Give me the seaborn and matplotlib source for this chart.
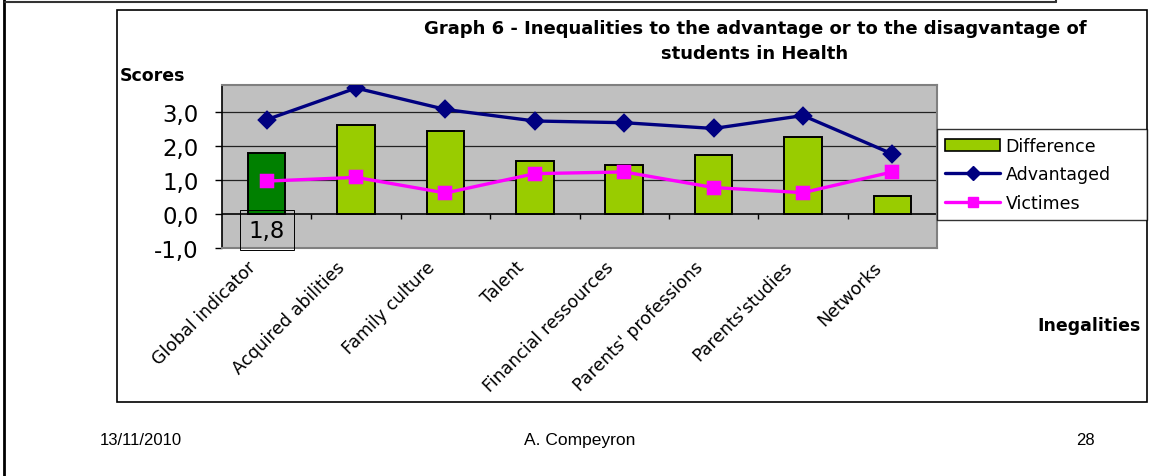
import numpy as np
import pandas as pd
import matplotlib
matplotlib.use("Agg")
import matplotlib.pyplot as plt
import matplotlib.transforms as mtransforms
from matplotlib.patches import Rectangle, Patch
from matplotlib.lines import Line2D
import seaborn as sns

# values
categories = ["Global indicator", "Acquired abilities", "Family culture", "Talent",
              "Financial ressources", "Parents' professions", "Parents'studies", "Networks"]
difference = [1.81, 2.63, 2.46, 1.55, 1.45, 1.73, 2.27, 0.53]
advantaged = [2.78, 3.71, 3.08, 2.74, 2.69, 2.52, 2.90, 1.77]
victimes = [0.97, 1.08, 0.62, 1.19, 1.24, 0.78, 0.63, 1.24]
yticks = [-1, 0, 1, 2, 3]

df = pd.DataFrame({"cat": categories, "Difference": difference,
                   "Advantaged": advantaged, "Victimes": victimes})

sns.set_style("white")
plt.rcParams["font.family"] = ["DejaVu Sans"]
plt.rcParams["text.color"] = "black"
plt.rcParams["xtick.color"] = "black"
plt.rcParams["ytick.color"] = "black"
plt.rcParams["axes.labelcolor"] = "black"

W, H = 1155, 477
fig = plt.figure(figsize=(W / 100, H / 100), dpi=100)


def fx(x):
    return x / W


def fy(y):
    return 1 - y / H


# slide decorations
fig.add_artist(Line2D([fx(4), fx(4)], [0, 1], color="black", lw=2))
fig.add_artist(Line2D([fx(5), fx(1056)], [fy(3), fy(3)], color="#333333", lw=1.5))
fig.add_artist(Line2D([fx(1056), fx(1056)], [fy(3), 1], color="#333333", lw=1.5))
fig.add_artist(Rectangle((fx(117), fy(403)), fx(1147) - fx(117), fy(11) - fy(403),
                         fill=False, ec="black", lw=1.2))

ax = fig.add_axes([fx(222), fy(249), fx(937) - fx(222), fy(86) - fy(249)])
ax.set_facecolor("#C0C0C0")

bar_colors = ["#008000"] + ["#99CC00"] * (len(categories) - 1)
sns.barplot(data=df, x="cat", y="Difference", hue="cat", palette=bar_colors,
            legend=False, width=0.42, edgecolor="black", linewidth=1.4,
            saturation=1, ax=ax, zorder=3)
sns.pointplot(data=df, x="cat", y="Advantaged", color="#000080", markers="D",
              linewidth=2.4, markersize=8, ax=ax, zorder=4)
sns.pointplot(data=df, x="cat", y="Victimes", color="#FF00FF", markers="s",
              linewidth=2.4, markersize=8.5, ax=ax, zorder=4)

ax.set_xlim(-0.5, len(categories) - 0.5)
ax.set_ylim(-1, 3.8)
ax.set_yticks(yticks)
ax.yaxis.set_major_formatter(lambda v, p: f"{v:.1f}".replace(".", ","))
ax.tick_params(axis="y", labelsize=16.5, length=5, width=1, color="black",
               direction="out", pad=12, left=True)
for g in [1, 2, 3]:
    ax.axhline(g, color="#222222", lw=0.9, zorder=1)
ax.axhline(0, color="black", lw=1.2, zorder=2)
ax.vlines(np.arange(0.5, len(categories) - 0.5), -0.14, 0, color="black", lw=1, zorder=2)

ax.set_xlabel("")
ax.set_ylabel("")
ax.tick_params(axis="x", length=0, labelsize=12.5, pad=7)
ax.set_xticks(range(len(categories)))
ax.set_xticklabels(categories, rotation=45, ha="right", va="top",
                   rotation_mode="anchor")
offset = mtransforms.ScaledTranslation(-20 / 100, 0, fig.dpi_scale_trans)
for lab in ax.get_xticklabels():
    lab.set_transform(lab.get_transform() + offset)

for side in ["top", "right", "bottom"]:
    ax.spines[side].set_color("#808080")
    ax.spines[side].set_linewidth(1.5)
ax.spines["left"].set_color("black")
ax.spines["left"].set_linewidth(1.2)

ax.text(0, -0.47, f"{difference[0]:.1f}".replace(".", ","), ha="center", va="center",
        fontsize=16.5, zorder=5,
        bbox=dict(boxstyle="square,pad=0.38", fc="none", ec="black", lw=0.7))

handles = [Patch(fc="#99CC00", ec="black", lw=1.2, label="Difference"),
           Line2D([], [], color="#000080", lw=2.4, marker="D", markersize=7, label="Advantaged"),
           Line2D([], [], color="#FF00FF", lw=2.4, marker="s", markersize=7, label="Victimes")]
leg = fig.legend(handles=handles, loc="center left",
                 bbox_to_anchor=(fx(937), fy(224), fx(1147) - fx(937), fy(127) - fy(224)),
                 mode="expand", fontsize=12.5, frameon=True, fancybox=False,
                 edgecolor="black", handlelength=3.2, borderaxespad=0, labelspacing=0.6,
                 handletextpad=0.3, borderpad=0.45)
leg.get_frame().set_linewidth(1)

fig.text(fx(755), fy(29), "Graph 6 - Inequalities to the advantage or to the disagvantage of",
         ha="center", va="center", fontsize=13, fontweight="bold")
fig.text(fx(755), fy(54), "students in Health", ha="center", va="center",
         fontsize=13, fontweight="bold")
fig.text(fx(120), fy(76), "Scores", ha="left", va="center", fontsize=12.5, fontweight="bold")
fig.text(fx(1141), fy(326), "Inegalities", ha="right", va="center", fontsize=12.5,
         fontweight="bold")

fig.text(fx(100), fy(441), "13/11/2010", ha="left", va="center", fontsize=12,
         family="Liberation Sans")
fig.text(fx(580), fy(441), "A. Compeyron", ha="center", va="center", fontsize=12.5,
         family="Liberation Sans")
fig.text(fx(1095), fy(441), "28", ha="right", va="center", fontsize=12,
         family="Liberation Sans")

fig.savefig("out.png", dpi=100)
